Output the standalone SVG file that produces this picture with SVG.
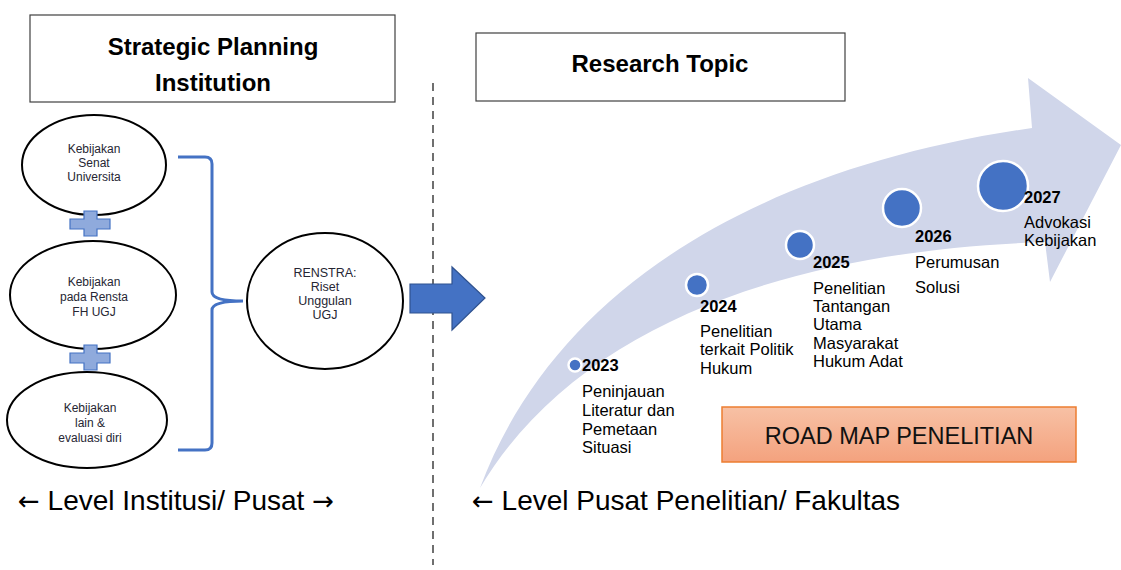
<svg xmlns="http://www.w3.org/2000/svg" width="1121" height="570" viewBox="0 0 1121 570">
<defs>
<style>
.box{fill:#fff;stroke:#404040;stroke-width:1.2}
.title{font-family:"Liberation Sans",Arial,sans-serif;font-weight:bold;font-size:24px;fill:#000;text-anchor:middle}
.ell{fill:#fff;stroke:#000;stroke-width:2}
.et{font-family:"Liberation Sans",Arial,sans-serif;font-size:12px;fill:#262633;text-anchor:middle}
.rt{font-family:"Liberation Sans",Arial,sans-serif;font-size:12.5px;fill:#262633;text-anchor:middle}
.plus{fill:#8FAADC;stroke:#4472C4;stroke-width:1.2}
.dot{fill:#4472C4;stroke:#fff;stroke-width:2.5}
.yr{font-family:"Liberation Sans",Arial,sans-serif;font-weight:bold;font-size:16.5px;fill:#000}
.tl{font-family:"Liberation Sans",Arial,sans-serif;font-size:16.5px;fill:#000}
.lvl{font-family:"Liberation Sans",Arial,sans-serif;font-size:28px;fill:#000}
.arw{font-family:"DejaVu Sans",sans-serif;font-size:26px}
</style>
<linearGradient id="og" x1="0" y1="0" x2="0" y2="1">
<stop offset="0" stop-color="#F7C1A5"/>
<stop offset="1" stop-color="#F4A27E"/>
</linearGradient>
</defs>

<g id="title-left">
<rect class="box" x="30" y="15" width="365" height="87"/>
<text class="title" x="213" y="55">Strategic Planning</text>
<text class="title" x="213" y="91">Institution</text>
</g>

<g id="title-right">
<rect class="box" x="476" y="33" width="369" height="68"/>
<text class="title" x="660" y="72">Research Topic</text>
</g>

<line x1="433" y1="83" x2="433" y2="565" stroke="#404040" stroke-width="1.5" stroke-dasharray="8,6"/>

<g id="node-senat">
<ellipse class="ell" cx="94" cy="165" rx="72" ry="50"/>
<text class="et" x="94" y="153">Kebijakan</text>
<text class="et" x="94" y="167">Senat</text>
<text class="et" x="94" y="181">Universita</text>
</g>

<g id="plus-1">
<path class="plus" d="M84,211 H97 V219 H110 V229 H97 V236 H84 V229 H70 V219 H84 Z"/>
</g>

<g id="node-rensta">
<ellipse class="ell" cx="93" cy="295" rx="83" ry="54"/>
<text class="et" x="94" y="286">Kebijakan</text>
<text class="et" x="94" y="301">pada Rensta</text>
<text class="et" x="94" y="316">FH UGJ</text>
</g>

<g id="plus-2">
<path class="plus" d="M84,345 H97 V353 H110 V363 H97 V370 H84 V363 H70 V353 H84 Z"/>
</g>

<g id="node-lain">
<ellipse class="ell" cx="87" cy="420" rx="80" ry="48"/>
<text class="et" x="90" y="412">Kebijakan</text>
<text class="et" x="90" y="427">lain &amp;</text>
<text class="et" x="90" y="442">evaluasi diri</text>
</g>

<g id="node-renstra">
<ellipse class="ell" cx="325" cy="301" rx="78" ry="68"/>
<text class="rt" x="325" y="277">RENSTRA:</text>
<text class="rt" x="325" y="291">Riset</text>
<text class="rt" x="325" y="305">Unggulan</text>
<text class="rt" x="325" y="319">UGJ</text>
</g>

<g id="connectors">
<path d="M178,157 H205 Q212,157 212,164 V292 Q212,301 243,301 Q212,301 212,310 V443 Q212,450 205,450 H178" fill="none" stroke="#4472C4" stroke-width="3"/>
<polygon points="410,284 452,284 452,267 485,298 452,330 452,313 410,313" fill="#4472C4" stroke="#2F528F" stroke-width="1.2"/>
</g>

<g id="roadmap-arrow">
<path d="M480,488 C550,300 740,170 1032,128 L1028,78 L1121,145 L1050,282 L1045,242 C800,250 580,320 480,488 Z" fill="#D0D6EA"/>
</g>

<g id="m2023">
<circle class="dot" cx="575" cy="365" r="6.5"/>
<text class="yr" x="582" y="371">2023</text>
<text class="tl" x="582" y="397">Peninjauan</text>
<text class="tl" x="582" y="416">Literatur dan</text>
<text class="tl" x="582" y="435">Pemetaan</text>
<text class="tl" x="582" y="453">Situasi</text>
</g>

<g id="m2024">
<circle class="dot" cx="697" cy="285" r="11"/>
<text class="yr" x="700" y="312">2024</text>
<text class="tl" x="700" y="337">Penelitian</text>
<text class="tl" x="700" y="355">terkait Politik</text>
<text class="tl" x="700" y="374">Hukum</text>
</g>

<g id="m2025">
<circle class="dot" cx="800" cy="245" r="14"/>
<text class="yr" x="813" y="268">2025</text>
<text class="tl" x="813" y="294">Penelitian</text>
<text class="tl" x="813" y="312">Tantangan</text>
<text class="tl" x="813" y="330">Utama</text>
<text class="tl" x="813" y="349">Masyarakat</text>
<text class="tl" x="813" y="367">Hukum Adat</text>
</g>

<g id="m2026">
<circle class="dot" cx="902" cy="208" r="19"/>
<text class="yr" x="915" y="242">2026</text>
<text class="tl" x="915" y="268">Perumusan</text>
<text class="tl" x="915" y="293">Solusi</text>
</g>

<g id="m2027">
<circle class="dot" cx="1003" cy="186" r="25"/>
<text class="yr" x="1024" y="203">2027</text>
<text class="tl" x="1024" y="228">Advokasi</text>
<text class="tl" x="1024" y="246">Kebijakan</text>
</g>

<g id="roadmap-label">
<rect x="722" y="407" width="354" height="55" fill="url(#og)" stroke="#ED7D31" stroke-width="1.5"/>
<text x="899" y="444" font-family="Liberation Sans, Arial, sans-serif" font-size="23.5" text-anchor="middle" fill="#111">ROAD MAP PENELITIAN</text>
</g>

<g id="levels">
<text class="lvl" x="18" y="510"><tspan class="arw">←</tspan> Level Institusi/ Pusat <tspan class="arw">→</tspan></text>
<text class="lvl" x="472" y="510"><tspan class="arw">←</tspan> Level Pusat Penelitian/ Fakultas</text>
</g>
</svg>
